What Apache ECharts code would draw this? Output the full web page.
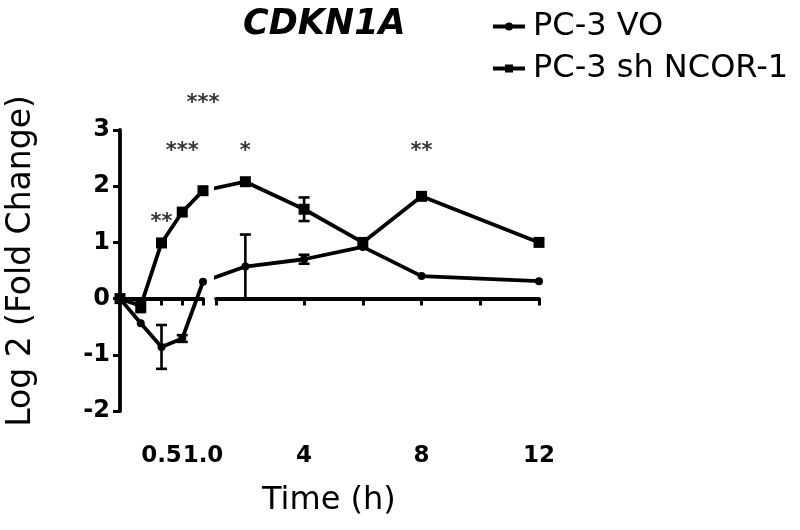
<!DOCTYPE html>
<html>
<head>
<meta charset="utf-8">
<script src="https://cdn.jsdelivr.net/npm/echarts@6/dist/echarts.min.js"></script>
<style>
html,body{margin:0;padding:0;background:#fff;}
#chart{width:800px;height:530px;}
</style>
</head>
<body>
<div id="chart"></div>
<script>
// ---------------- DATA ----------------
const titleText = 'CDKN1A';
const seriesNames = ['PC-3 VO', 'PC-3 sh NCOR-1'];
const yAxisName = 'Log 2 (Fold Change)';
const xAxisName = 'Time (h)';

// early segment of the broken time axis (0 – 1 h)
const timeEarly = [0, 0.25, 0.5, 0.75, 1.0];
const voEarly = [0, -0.44, -0.86, -0.71, 0.30];
const voEarlyErr = [0, 0, 0.39, 0.06, 0];
const shEarly = [0, -0.13, 0.99, 1.54, 1.92];
const shEarlyErr = [0, 0.11, 0, 0, 0];

// late segment of the broken time axis (1 – 12 h)
const timeLate = [2, 4, 6, 8, 12];
const voLate = [0.57, 0.70, 0.92, 0.40, 0.31];
const voLateErr = [0.57, 0.08, 0, 0, 0];
const shLate = [2.08, 1.59, 1.00, 1.82, 1.00];
const shLateErr = [0, 0.21, 0, 0, 0];

// axes
const yMin = -2, yMax = 3, yStep = 1;
const xEarlyMin = 0, xEarlyMax = 1;
const xLateMin = 1, xLateMax = 12;
const xTicksEarly = [0.25, 0.5, 0.75, 1.0];
const xLabelValuesEarly = [0.5, 1.0];
const xLabelTextsEarly = ['0.5', '1.0'];
const xTicksLate = [1, 4, 6, 8, 10, 12];
const xLabelValuesLate = [4, 8, 12];
const xLabelTextsLate = ['4', '8', '12'];

// significance annotations
const sigEarlyX = [0.5, 0.75, 1.0];
const sigEarlyY = [1.45, 2.70, 3.56];
const sigEarlyText = ['**', '***', '***'];
const sigLateX = [2, 8];
const sigLateY = [2.70, 2.70];
const sigLateText = ['*', '**'];

// ---------------- LAYOUT ----------------
const G1 = {left: 120, width: 83, top: 130, height: 281};
const G2 = {left: 216, width: 323, top: 130, height: 281};
const FONT = "'DejaVu Sans', 'Liberation Sans', Arial, sans-serif";
const LINE_W = 3.8;

// The line that crosses the axis break is drawn straight in screen space
// (as in the original figure); place the last early point at its virtual
// position in the late axis so the clip of grid 2 cuts it at the break.
const pxPerHourLate = G2.width / (xLateMax - xLateMin);
const breakGapPx = G2.left - (G1.left + G1.width);
const xVirtualEarlyEnd = xLateMin - (xEarlyMax - timeEarly[timeEarly.length - 1]) - breakGapPx / pxPerHourLate;

function pairs(xs, ys) { return xs.map((x, i) => [x, ys[i]]); }

function lineSeries(name, gridIdx, data, symbol, size, firstHidden) {
  return {
    name: name,
    type: 'line',
    xAxisIndex: gridIdx,
    yAxisIndex: gridIdx,
    data: data,
    symbol: firstHidden ? function (v, p) { return p.dataIndex === 0 ? 'none' : symbol; } : symbol,
    symbolSize: size,
    showAllSymbol: true,
    clip: firstHidden ? true : false,
    lineStyle: {color: '#000', width: LINE_W},
    itemStyle: {color: '#000'},
    emphasis: {disabled: true},
    animation: false,
    z: 4
  };
}

function errorSeries(gridIdx, xs, ys, errs) {
  const data = [];
  xs.forEach((x, i) => { if (errs[i] > 0) data.push([x, ys[i] - errs[i], ys[i] + errs[i]]); });
  return {
    type: 'custom',
    xAxisIndex: gridIdx,
    yAxisIndex: gridIdx,
    data: data,
    encode: {x: 0, y: [1, 2]},
    silent: true,
    animation: false,
    z: 3,
    renderItem: function (params, api) {
      const x = api.value(0);
      const lo = api.coord([x, api.value(1)]);
      const hi = api.coord([x, api.value(2)]);
      const w = 5.5;
      const st = {stroke: '#000', lineWidth: 2.6};
      return {
        type: 'group',
        children: [
          {type: 'line', shape: {x1: lo[0], y1: lo[1], x2: hi[0], y2: hi[1]}, style: st},
          {type: 'line', shape: {x1: lo[0] - w, y1: lo[1], x2: lo[0] + w, y2: lo[1]}, style: st},
          {type: 'line', shape: {x1: hi[0] - w, y1: hi[1], x2: hi[0] + w, y2: hi[1]}, style: st}
        ]
      };
    }
  };
}

function sigSeries(gridIdx, xs, ys, texts) {
  return {
    type: 'scatter',
    xAxisIndex: gridIdx,
    yAxisIndex: gridIdx,
    data: pairs(xs, ys),
    symbol: 'circle',
    symbolSize: 2,
    itemStyle: {color: 'rgba(0,0,0,0)'},
    clip: false,
    silent: true,
    animation: false,
    z: 6,
    label: {
      show: true,
      position: 'inside',
      offset: [0, 5],
      formatter: function (p) { return texts[p.dataIndex]; },
      fontFamily: FONT,
      fontWeight: 'bold',
      fontSize: 21,
      color: '#000',
      textBorderWidth: 0
    }
  };
}

// axis drawn along y = 0 : line + ticks only
function xLineAxis(gridIdx, min, max, ticks) {
  return {
    gridIndex: gridIdx,
    type: 'value',
    position: 'bottom',
    min: min,
    max: max,
    axisLine: {show: true, onZero: true, lineStyle: {color: '#000', width: LINE_W}},
    axisTick: {show: true, customValues: ticks, length: 7, lineStyle: {color: '#000', width: 3}},
    axisLabel: {show: false},
    splitLine: {show: false}
  };
}

// axis at the bottom of the plot : tick labels only
function xLabelAxis(gridIdx, min, max, labelVals, labelTexts) {
  return {
    gridIndex: gridIdx,
    type: 'value',
    position: 'bottom',
    offset: 0,
    min: min,
    max: max,
    axisLine: {show: false, onZero: false},
    axisTick: {show: false},
    axisLabel: {
      show: true,
      hideOverlap: false,
      customValues: labelVals,
      formatter: function (v) {
        const i = labelVals.findIndex(t => Math.abs(t - Number(v)) < 1e-9);
        return i >= 0 ? labelTexts[i] : String(v);
      },
      margin: 34,
      fontFamily: FONT,
      fontWeight: 'bold',
      fontSize: 23,
      color: '#000'
    },
    splitLine: {show: false}
  };
}

const option = {
  backgroundColor: '#fff',
  animation: false,
  title: [
    {
      text: titleText,
      left: 243, top: 7, padding: 0,
      textStyle: {fontFamily: FONT, fontStyle: 'italic', fontWeight: 'bold', fontSize: 35, color: '#000'}
    },
    {
      text: xAxisName,
      left: 262, top: 485, padding: 0,
      textStyle: {fontFamily: FONT, fontWeight: 'normal', fontSize: 32, color: '#000'}
    }
  ],
  legend: {
    data: seriesNames,
    orient: 'vertical',
    left: 491,
    top: 9,
    padding: 0,
    itemGap: 7,
    itemWidth: 32,
    itemHeight: 10,
    selectedMode: false,
    lineStyle: {width: 4, color: '#000'},
    textStyle: {fontFamily: FONT, fontSize: 32, color: '#000', lineHeight: 35, padding: [0, 0, 0, 3]}
  },
  grid: [
    Object.assign({outerBoundsMode: 'none', containLabel: false}, G1),
    Object.assign({outerBoundsMode: 'none', containLabel: false}, G2)
  ],
  xAxis: [
    xLineAxis(0, xEarlyMin, xEarlyMax, xTicksEarly),
    xLineAxis(1, xLateMin, xLateMax, xTicksLate),
    xLabelAxis(0, xEarlyMin, xEarlyMax, xLabelValuesEarly, xLabelTextsEarly),
    xLabelAxis(1, xLateMin, xLateMax, xLabelValuesLate, xLabelTextsLate)
  ],
  yAxis: [
    {
      gridIndex: 0,
      type: 'value',
      min: yMin, max: yMax, interval: yStep,
      axisLine: {show: true, lineStyle: {color: '#000', width: LINE_W}},
      axisTick: {show: true, length: 7, lineStyle: {color: '#000', width: 3}},
      axisLabel: {fontFamily: FONT, fontWeight: 'bold', fontSize: 24, color: '#000', margin: 10},
      splitLine: {show: false},
      name: yAxisName,
      nameLocation: 'middle',
      nameRotate: 90,
      nameGap: 82,
      nameTextStyle: {fontFamily: FONT, fontSize: 33, color: '#000', padding: [0, 0, 0, 19]}
    },
    {
      gridIndex: 1,
      type: 'value',
      min: yMin, max: yMax, interval: yStep,
      show: false
    }
  ],
  series: [
    lineSeries(seriesNames[0], 0, pairs(timeEarly, voEarly), 'circle', 8, false),
    lineSeries(seriesNames[1], 0, pairs(timeEarly, shEarly), 'rect', 11, false),
    lineSeries(seriesNames[0], 1,
      [[xVirtualEarlyEnd, voEarly[voEarly.length - 1]]].concat(pairs(timeLate, voLate)), 'circle', 8, true),
    lineSeries(seriesNames[1], 1,
      [[xVirtualEarlyEnd, shEarly[shEarly.length - 1]]].concat(pairs(timeLate, shLate)), 'rect', 11, true),
    errorSeries(0, timeEarly, voEarly, voEarlyErr),
    errorSeries(0, timeEarly, shEarly, shEarlyErr),
    errorSeries(1, timeLate, voLate, voLateErr),
    errorSeries(1, timeLate, shLate, shLateErr),
    sigSeries(0, sigEarlyX, sigEarlyY, sigEarlyText),
    sigSeries(1, sigLateX, sigLateY, sigLateText)
  ]
};

const chart = echarts.init(document.getElementById('chart'), null, {renderer: 'canvas'});
chart.setOption(option);
</script>
</body>
</html>
